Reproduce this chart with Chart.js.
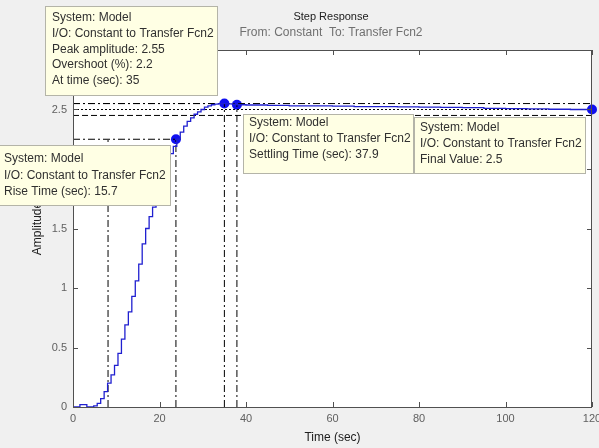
<!DOCTYPE html>
<html>
<head>
<meta charset="utf-8">
<script src="https://cdn.jsdelivr.net/npm/chart.js@4/dist/chart.umd.min.js"></script>
<style>
  html, body { margin: 0; padding: 0; background: #f0f0f0; }
  #wrap { width: 599px; height: 448px; }
</style>
</head>
<body>
<div id="wrap"><canvas id="stepChart" width="599" height="448"></canvas></div>
<script>
// DATA: step response of "Model" (Constant -> Transfer Fcn2)
var time = [0, 0.8, 1.6, 2.4, 3.2, 4, 4.8, 5.6, 6.4, 7.2, 8, 8.8, 9.6, 10.4, 11.2, 12, 12.8, 13.6,
  14.4, 15.2, 16, 16.8, 17.6, 18.4, 19.2, 20, 20.8, 21.6, 22.4, 23.2, 24, 24.8, 25.6, 26.4, 27.2,
  28, 28.8, 29.6, 30.4, 31.2, 32, 32.8, 33.6, 34.4, 35.2, 36, 36.8, 37.6, 38.4, 39.2, 40,
  45, 50, 55, 60, 65, 70, 75, 80, 85, 90, 95, 100, 105, 110, 115, 120];
var amplitude = [0, 0, 0.02, 0.02, 0, 0, 0.01, 0.03, 0.07, 0.13, 0.2, 0.27, 0.35, 0.45, 0.57, 0.69, 0.8, 0.93,
  1.06, 1.2, 1.37, 1.5, 1.6, 1.68, 1.8, 1.9, 2.0, 2.07, 2.13, 2.19, 2.25, 2.31, 2.36, 2.4, 2.43,
  2.46, 2.48, 2.5, 2.52, 2.53, 2.54, 2.545, 2.55, 2.55, 2.55, 2.548, 2.545, 2.542, 2.54, 2.54, 2.538,
  2.535, 2.53, 2.53, 2.528, 2.525, 2.525, 2.522, 2.52, 2.518, 2.515, 2.51, 2.508, 2.505, 2.502, 2.5, 2.5];

// characteristics (datatips)
var riseTimes = [8.1, 23.8];     // 10% and 90% crossing
var riseLevel = 2.25;
var peakTime = 35, peakAmp = 2.55;
var settleTime = 37.9, settleAmp = 2.54;
var settleBand = [2.45, 2.55];
var finalTime = 120, finalValue = 2.5;

var xTicks = [0, 20, 40, 60, 80, 100, 120];
var yTicks = [0, 0.5, 1, 1.5, 2, 2.5, 3];
var yTickLabels = ['0', '0.5', '1', '1.5', '2', '2.5', '3'];

var tipTexts = [
  ['System: Model', 'I/O: Constant to Transfer Fcn2', 'Peak amplitude: 2.55', 'Overshoot (%): 2.2', 'At time (sec): 35'],
  ['System: Model', 'I/O: Constant to Transfer Fcn2', 'Rise Time (sec): 15.7'],
  ['System: Model', 'I/O: Constant to Transfer Fcn2', 'Settling Time (sec): 37.9'],
  ['System: Model', 'I/O: Constant to Transfer Fcn2', 'Final Value: 2.5']
];

var xMin = xTicks[0], xMax = xTicks[xTicks.length - 1];
var stepData = time.map(function (t, i) { return { x: t, y: amplitude[i] }; });

function refLine(pts, dash) {
  return {
    type: 'line', data: pts, borderColor: '#000', borderWidth: 1,
    borderDash: dash, pointRadius: 0, fill: false, tension: 0
  };
}
var DASHDOT = [7, 3, 2, 3];
var DASHED = [6, 3];
var DOTTED = [2, 2];

// fond blanc + cadre + graduations intérieures (façon MATLAB)
var axesBox = {
  id: 'axesBox',
  beforeDraw: function (chart) {
    var c = chart.ctx, a = chart.chartArea;
    c.save();
    c.fillStyle = '#ffffff';
    c.fillRect(a.left, a.top, a.right - a.left, a.bottom - a.top);
    c.restore();
  },
  afterDatasetsDraw: function (chart) {
    var c = chart.ctx, a = chart.chartArea;
    var xs = chart.scales.x, ys = chart.scales.y;
    c.save();
    c.strokeStyle = '#505050';
    c.lineWidth = 1;
    c.strokeRect(a.left + 0.5, a.top + 0.5, a.right - a.left - 1, a.bottom - a.top);
    c.beginPath();
    xTicks.forEach(function (v) {
      var px = Math.round(xs.getPixelForValue(v)) + 0.5;
      c.moveTo(px, a.bottom); c.lineTo(px, a.bottom - 5);
      c.moveTo(px, a.top); c.lineTo(px, a.top + 5);
    });
    yTicks.forEach(function (v) {
      var py = Math.round(ys.getPixelForValue(v)) + 0.5;
      c.moveTo(a.left, py); c.lineTo(a.left + 5, py);
      c.moveTo(a.right, py); c.lineTo(a.right - 5, py);
    });
    c.stroke();
    c.restore();
  },
  afterDraw: function (chart) {
    var c = chart.ctx;
    c.save();
    c.textAlign = 'center';
    c.textBaseline = 'middle';
    c.fillStyle = '#202020';
    c.font = '11px "Liberation Sans", Arial, sans-serif';
    c.fillText('Step Response', 331, 17);
    c.fillStyle = '#707070';
    c.font = '12px "Liberation Sans", Arial, sans-serif';
    c.fillText('From: Constant  To: Transfer Fcn2', 331, 33);
    c.restore();

    // datatips
    var boxes = [
      [45, 6, 172, 89],
      [-1, 145, 171, 60],
      [243, 114, 170, 59],
      [414, 117, 171, 56]
    ];
    var textOffset = [7, 5, 6, 6];
    var firstLine = [18, 159, 123, 128];
    var lineStep = [15.7, 16.5, 16, 16];
    c.save();
    c.font = '12px "Liberation Sans", Arial, sans-serif';
    c.textAlign = 'left';
    c.textBaseline = 'middle';
    boxes.forEach(function (b, i) {
      c.fillStyle = '#ffffe4';
      c.fillRect(b[0], b[1], b[2], b[3]);
      c.strokeStyle = '#b4b4a8';
      c.lineWidth = 1;
      c.strokeRect(b[0] + 0.5, b[1] + 0.5, b[2], b[3]);
      c.fillStyle = '#303030';
      tipTexts[i].forEach(function (t, k) {
        c.fillText(t, b[0] + textOffset[i], firstLine[i] + k * lineStep[i]);
      });
    });
    c.restore();
  }
};

var ctx = document.getElementById('stepChart').getContext('2d');
var stepChart = new Chart(ctx, {
  type: 'line',
  data: {
    datasets: [
      {
        data: stepData, borderColor: '#2020d0', borderWidth: 1.3,
        stepped: true, pointRadius: 0, fill: false
      },
      // rise time
      refLine([{ x: xMin, y: riseLevel }, { x: riseTimes[1], y: riseLevel }], DASHDOT),
      refLine([{ x: riseTimes[0], y: 0 }, { x: riseTimes[0], y: riseLevel }], DASHDOT),
      refLine([{ x: riseTimes[1], y: 0 }, { x: riseTimes[1], y: riseLevel }], DASHDOT),
      // peak
      refLine([{ x: xMin, y: peakAmp }, { x: peakTime, y: peakAmp }], DASHDOT),
      refLine([{ x: peakTime, y: 0 }, { x: peakTime, y: peakAmp }], DASHDOT),
      // settling
      refLine([{ x: settleTime, y: 0 }, { x: settleTime, y: settleAmp }], DASHDOT),
      refLine([{ x: xMin, y: settleBand[1] }, { x: xMax, y: settleBand[1] }], DASHDOT),
      refLine([{ x: xMin, y: settleBand[0] }, { x: xMax, y: settleBand[0] }], DASHED),
      // final value
      refLine([{ x: xMin, y: finalValue }, { x: xMax, y: finalValue }], DOTTED),
      {
        type: 'scatter',
        data: [
          { x: riseTimes[1], y: riseLevel },
          { x: peakTime, y: peakAmp },
          { x: settleTime, y: settleAmp },
          { x: finalTime, y: finalValue }
        ],
        pointRadius: 5, pointBackgroundColor: '#1010f0', pointBorderColor: '#1010f0',
        pointBorderWidth: 0, showLine: false, clip: false
      }
    ]
  },
  options: {
    responsive: false,
    animation: false,
    layout: { padding: { left: 0, right: 7, top: 50, bottom: 0 } },
    plugins: { legend: { display: false }, tooltip: { enabled: false } },
    scales: {
      x: {
        type: 'linear', min: xMin, max: xMax,
        afterFit: function (s) { s.height = 41; s.paddingLeft = 0; s.paddingRight = 0; },
        afterBuildTicks: function (s) { s.ticks = xTicks.map(function (v) { return { value: v }; }); },
        grid: { display: false, drawTicks: false },
        border: { display: false },
        ticks: { padding: 5, color: '#606060', font: { family: '"Liberation Sans", Arial', size: 11 } },
        title: {
          display: true, text: 'Time (sec)', color: '#202020',
          font: { family: '"Liberation Sans", Arial', size: 12 }, padding: { top: 0, bottom: 3 }
        }
      },
      y: {
        min: yTicks[0], max: yTicks[yTicks.length - 1],
        afterFit: function (s) { s.width = 73; s.paddingTop = 0; s.paddingBottom = 0; },
        afterBuildTicks: function (s) { s.ticks = yTicks.map(function (v) { return { value: v }; }); },
        grid: { display: false, drawTicks: false },
        border: { display: false },
        ticks: {
          padding: 6, color: '#606060', font: { family: '"Liberation Sans", Arial', size: 11 },
          callback: function (v, i) { return yTickLabels[i]; }
        },
        title: {
          display: true, text: 'Amplitude', color: '#202020',
          font: { family: '"Liberation Sans", Arial', size: 12 }, padding: { top: 30, bottom: 0 }
        }
      }
    }
  },
  plugins: [axesBox]
});
</script>
</body>
</html>
